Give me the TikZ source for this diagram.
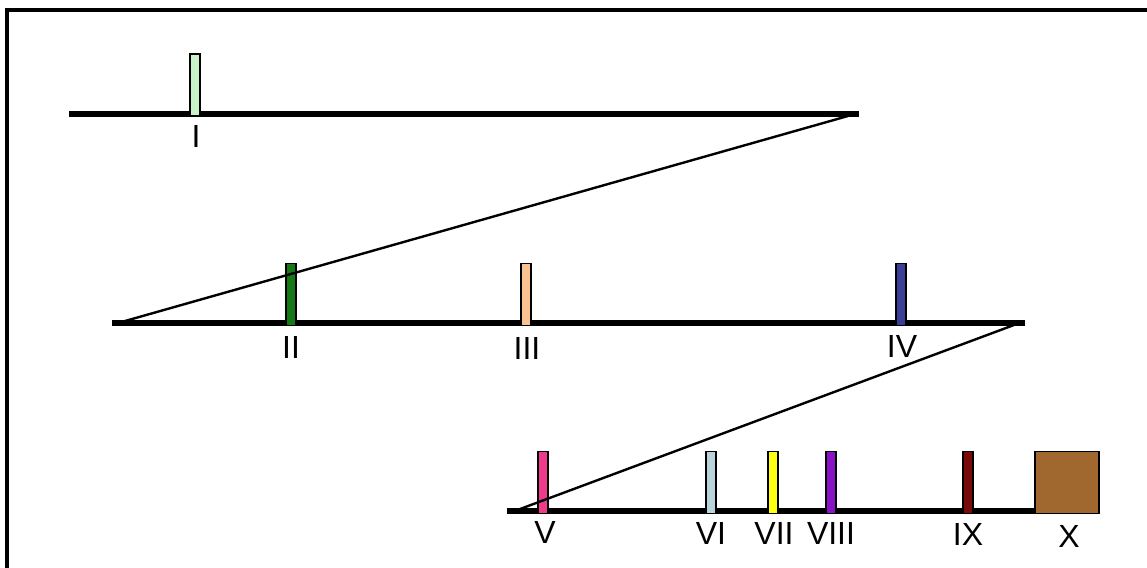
\documentclass[tikz,border=0pt]{standalone}
\usepackage{fontspec}
\setmainfont{Liberation Sans}
\definecolor{cI}{HTML}{C8F2C8}
\definecolor{cII}{HTML}{157A15}
\definecolor{cIII}{HTML}{F8C292}
\definecolor{cIV}{HTML}{3A3E96}
\definecolor{cV}{HTML}{F03A8C}
\definecolor{cVI}{HTML}{B6D4DA}
\definecolor{cVII}{HTML}{FFFF10}
\definecolor{cVIII}{HTML}{8A12C6}
\definecolor{cIX}{HTML}{780A0A}
\definecolor{cX}{HTML}{A0682E}
\tikzset{
  track/.style={line width=6pt},
  link/.style={line width=2.4pt},
  frameline/.style={line width=4pt},
  bar/.style={draw=black, line width=1.5pt, minimum width=10pt, minimum height=62pt, inner sep=0pt, anchor=south},
  block/.style={draw=black, line width=1.5pt, fill=cX, minimum width=64pt, minimum height=62pt, inner sep=0pt, anchor=south},
  lab/.style={anchor=base, inner sep=0pt, font=\fontsize{32}{32}\selectfont}
}
\begin{document}
\begin{tikzpicture}[x=1pt, y=-1pt]
\useasboundingbox (0,0) rectangle (1147,567);
\fill[white] (0,0) rectangle (1147,567);
% frame
\draw[frameline] (7,590) -- (7,10) -- (1170,10);
% chromosome tracks
\coordinate (t1a) at (69,114);
\coordinate (t1b) at (859,114);
\coordinate (t2a) at (112,323);
\coordinate (t2b) at (1025,323);
\coordinate (t3a) at (507,511);
\coordinate (t3b) at (1040,511);
\draw[track] (t1a) -- (t1b);
\draw[track] (t2a) -- (t2b);
\draw[track] (t3a) -- (t3b);
% markers
\node[bar, fill=cI]    (mI)    at (195,117) {};
\node[bar, fill=cII]   (mII)   at (291,326) {};
\node[bar, fill=cIII]  (mIII)  at (526,326) {};
\node[bar, fill=cIV]   (mIV)   at (901,326) {};
\node[bar, fill=cV]    (mV)    at (543,514) {};
\node[bar, fill=cVI]   (mVI)   at (711,514) {};
\node[bar, fill=cVII]  (mVII)  at (773,514) {};
\node[bar, fill=cVIII] (mVIII) at (831,514) {};
\node[bar, fill=cIX]   (mIX)   at (968,514) {};
\node[block]           (mX)    at (1067,514) {};
% links between tracks
\coordinate (d1a) at (848,116);
\coordinate (d1b) at (118,323);
\coordinate (d2a) at (1014,325);
\coordinate (d2b) at (512,512);
\draw[link] (d1a) -- (d1b);
\draw[link] (d2a) -- (d2b);
% labels
\node[lab] (lI)    at (196,147) {I};
\node[lab] (lII)   at (291,358) {II};
\node[lab] (lIII)  at (527,359) {III};
\node[lab] (lIV)   at (902,357) {IV};
\node[lab] (lV)    at (545,543) {V};
\node[lab] (lVI)   at (711,544) {VI};
\node[lab] (lVII)  at (774,544) {VII};
\node[lab] (lVIII) at (831,544) {VIII};
\node[lab] (lIX)   at (968,545) {IX};
\node[lab] (lX)    at (1069,547) {X};
\end{tikzpicture}
\end{document}
